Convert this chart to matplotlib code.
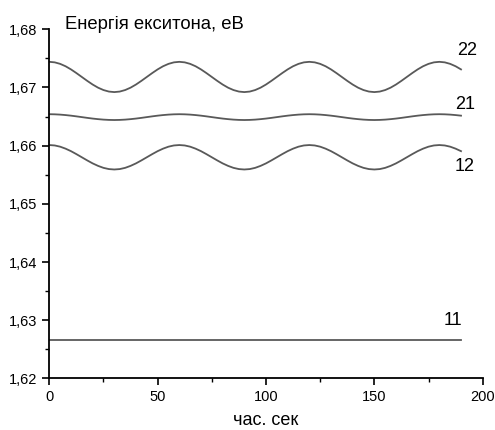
import numpy as np
import matplotlib
matplotlib.use('Agg')
import matplotlib.pyplot as plt
from matplotlib.ticker import MultipleLocator, FuncFormatter

plt.rcParams['font.family'] = ['Liberation Sans', 'DejaVu Sans']

# time, sec (every 2.5 s)
t = [i * 2.5 for i in range(77)]

# exciton energy, eV, one period = 60 s
e22_period = [1.67440, 1.67431, 1.67405, 1.67364, 1.67310, 1.67247,
              1.67180, 1.67113, 1.67050, 1.66996, 1.66955, 1.66929,
              1.66920, 1.66929, 1.66955, 1.66996, 1.67050, 1.67113,
              1.67180, 1.67247, 1.67310, 1.67364, 1.67405, 1.67431]
e21_period = [1.66540, 1.66538, 1.66533, 1.66525, 1.66515, 1.66503,
              1.66490, 1.66477, 1.66465, 1.66455, 1.66447, 1.66442,
              1.66440, 1.66442, 1.66447, 1.66455, 1.66465, 1.66477,
              1.66490, 1.66503, 1.66515, 1.66525, 1.66533, 1.66538]
e12_period = [1.66010, 1.66003, 1.65982, 1.65948, 1.65905, 1.65854,
              1.65800, 1.65746, 1.65695, 1.65652, 1.65618, 1.65597,
              1.65590, 1.65597, 1.65618, 1.65652, 1.65695, 1.65746,
              1.65800, 1.65854, 1.65905, 1.65948, 1.65982, 1.66003]
e22 = e22_period * 3 + e22_period[:5]
e21 = e21_period * 3 + e21_period[:5]
e12 = e12_period * 3 + e12_period[:5]
e11 = [1.6266] * len(t)

curve_names = ['22', '21', '12', '11']
label_pos = [(192.9, 1.6764), (192.0, 1.6671), (191.5, 1.6564), (186.5, 1.6299)]

fig = plt.figure(figsize=(4.95, 4.3), dpi=100)
ax = fig.add_axes([0.0996, 0.120, 0.8755, 0.812])

line_col = '#595959'
for ys in [e22, e21, e12, e11]:
    ax.plot(t, ys, color=line_col, lw=1.3, solid_joinstyle='round')

for name, (lx, ly) in zip(curve_names, label_pos):
    ax.text(lx, ly, name, ha='center', va='center', fontsize=13)

ax.set_xlim(0, 200)
ax.set_ylim(1.62, 1.68)
ax.xaxis.set_major_locator(MultipleLocator(50))
ax.xaxis.set_minor_locator(MultipleLocator(25))
ax.yaxis.set_major_locator(MultipleLocator(0.01))
ax.yaxis.set_minor_locator(MultipleLocator(0.005))
ax.yaxis.set_major_formatter(FuncFormatter(lambda v, p: f'{v:.2f}'.replace('.', ',')))

for s in ['top', 'right']:
    ax.spines[s].set_visible(False)
for s in ['left', 'bottom']:
    ax.spines[s].set_linewidth(1.3)

ax.tick_params(which='major', direction='out', length=5, width=1.2, labelsize=10.5)
ax.tick_params(which='minor', direction='out', length=3, width=1.0)

ax.set_xlabel('час. сек', fontsize=13)
ax.xaxis.set_label_coords(0.5, -0.134)
ax.xaxis.label.set_va('baseline')
fig.text(0.131, 0.9326, 'Енергія екситона, еВ', fontsize=13.3, ha='left', va='baseline')

fig.savefig('out.png', dpi=100)
